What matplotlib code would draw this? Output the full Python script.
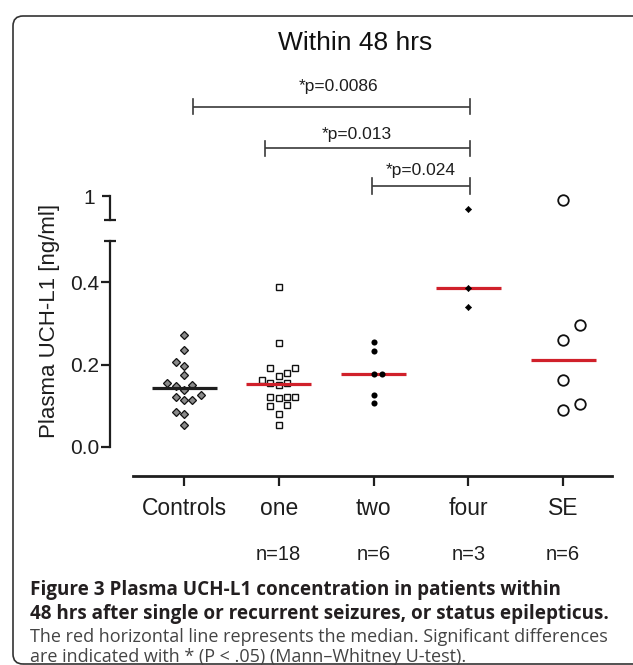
import matplotlib
matplotlib.use("Agg")
import matplotlib.pyplot as plt
import numpy as np
from matplotlib.patches import FancyBboxPatch
from matplotlib.transforms import blended_transform_factory

# values (ng/ml)
CATEGORIES = ["Controls", "one", "two", "four", "SE"]

controls = [0.271, 0.235, 0.206, 0.196, 0.174, 0.154, 0.149, 0.151,
            0.139, 0.121, 0.115, 0.115, 0.126, 0.084, 0.079, 0.054]
one_seizure = [0.389, 0.253, 0.192, 0.192, 0.173, 0.180, 0.162, 0.154, 0.150,
               0.154, 0.121, 0.119, 0.121, 0.121, 0.100, 0.102, 0.080, 0.054]
two_seizures = [0.254, 0.232, 0.176, 0.178, 0.127, 0.107]
four_seizures = [0.946, 0.386, 0.340]
status_epilepticus = [0.983, 0.296, 0.259, 0.162, 0.090, 0.104]

# column slot of each dot in the scatter (beeswarm layout)
controls_slot = [0, 0, -1, 0, 0, -2, -1, 1, 0, -1, 0, 1, 2, -1, 0, 0]
one_slot = [0, 0, -1, 2, 0, 1, -2, -1, 0, 1, -1, 0, 1, 2, -1, 1, 0, 0]
two_slot = [0, 0, 0, 1, 0, 0]
four_slot = [0, 0, 0]
se_slot = [0, 2, 0, 0, 0, 2]

COMPARISONS = ["*p=0.0086", "*p=0.013", "*p=0.024"]

CAPTION_BOLD = ["Figure 3 Plasma UCH-L1 concentration in patients within",
                "48 hrs after single or recurrent seizures, or status epilepticus."]
CAPTION_TEXT = ["The red horizontal line represents the median. Significant differences",
                "are indicated with * (P < .05) (Mann\u2013Whitney U-test)."]

# layout (pixels of the 633x665 picture, y measured from the top)
W, H, DPI = 633, 665, 100
SLOT = 0.088
BREAK_AT = 0.5
RED = "#d0202a"
INK = "#1e1e1e"


def fx(px):
    return px / W


def fy(py):
    return 1 - py / H


plt.rcParams["font.family"] = ["Liberation Sans", "DejaVu Sans"]

fig = plt.figure(figsize=(W / DPI, H / DPI), dpi=DPI)

# rounded frame, its right edge sits right at the picture border
box = FancyBboxPatch((0.13, 0.01), 6.34, 6.48,
                     boxstyle="round,pad=0,rounding_size=0.1",
                     transform=fig.dpi_scale_trans, facecolor="none",
                     edgecolor="#333333", linewidth=1.2)
fig.add_artist(box)

ax = fig.add_axes([fx(110), fy(476), fx(612) - fx(110), (476 - 241) / H])
top = fig.add_axes([fx(110), fy(220), fx(612) - fx(110), (220 - 196) / H])
for a in (ax, top):
    a.set_xlim(-0.781, 4.517)
    a.patch.set_visible(False)
    for side in ("top", "right"):
        a.spines[side].set_visible(False)
    a.spines["left"].set_linewidth(1.6)
    a.spines["left"].set_color(INK)

ax.set_ylim(-0.0707, BREAK_AT)
ax.spines["left"].set_bounds(0, BREAK_AT)
ax.spines["bottom"].set_bounds(-0.538, 4.517)
ax.spines["bottom"].set_linewidth(2.0)
ax.spines["bottom"].set_color(INK)
ax.set_yticks([0, 0.2, 0.4], ["0.0", "0.2", "0.4"])
ax.set_yticks([BREAK_AT], minor=True)
ax.tick_params(axis="y", which="major", direction="out", length=6.5, width=1.6,
               pad=1.5, labelsize=15, color=INK, labelcolor=INK)
ax.tick_params(axis="y", which="minor", direction="inout", length=9, width=1.6,
               color=INK)
ax.set_xticks(range(len(CATEGORIES)), CATEGORIES)
ax.tick_params(axis="x", direction="out", length=7, width=1.6, pad=8,
               labelsize=16.5, color=INK, labelcolor=INK)

top.set_ylim(0.9, 1.0)
top.spines["bottom"].set_visible(False)
top.set_xticks([])
top.set_yticks([1.0], ["1"])
top.set_yticks([0.9], minor=True)
top.tick_params(axis="y", which="major", direction="out", length=6, width=1.6,
                pad=5, labelsize=15, color=INK, labelcolor=INK)
top.tick_params(axis="y", which="minor", direction="inout", length=9, width=1.6,
                color=INK)

groups = [
    (controls, controls_slot, dict(marker="D", ms=4.0, mfc="#8a8a8a", mec="#111111", mew=0.9), 2, INK),
    (one_seizure, one_slot, dict(marker="s", ms=4.6, mfc="white", mec="#111111", mew=1.0), 2, RED),
    (two_seizures, two_slot, dict(marker="o", ms=4.4, mfc="black", mec="black", mew=0), 4, RED),
    (four_seizures, four_slot, dict(marker="D", ms=3.2, mfc="black", mec="black", mew=0.4), 4, RED),
    (status_epilepticus, se_slot, dict(marker="o", ms=7.6, mfc="white", mec="#111111", mew=1.3), 2, RED),
]

for i, (values, slots, style, z, median_color) in enumerate(groups):
    values = np.asarray(values)
    xs = i + SLOT * np.asarray(slots)
    low = values <= BREAK_AT
    ax.plot(xs[low], values[low], ls="none", zorder=z, clip_on=False, **style)
    if (~low).any():
        top.plot(xs[~low], values[~low], ls="none", zorder=z, clip_on=False, **style)
    med = np.median(values)
    ax.plot([i - 0.343, i + 0.343], [med, med], color=median_color, lw=2.3,
            solid_capstyle="butt", zorder=3)

# group sizes under the patient columns
fig_y = blended_transform_factory(ax.transData, fig.transFigure)
for i, (values, *_rest) in enumerate(groups[1:], start=1):
    ax.text(i, fy(555), f"n={len(values)}", transform=fig_y, ha="center",
            va="center", fontsize=14.5, color=INK)

# significance brackets: (x start, x end, line y px, text x, text y px)
bracket_layout = [(0.095, 3.02, 106.7, 1.636, 87),
                  (0.855, 3.02, 148.3, 1.826, 134),
                  (1.980, 3.02, 186.0, 2.501, 171)]
for label, (x0, x1, ly, tx, ty) in zip(COMPARISONS, bracket_layout):
    ax.plot([x0, x1], [fy(ly), fy(ly)], transform=fig_y, color="#3a3a3a",
            lw=1.2, clip_on=False, solid_capstyle="butt")
    for xe in (x0, x1):
        ax.plot([xe, xe], [fy(ly - 7.5), fy(ly + 7.5)], transform=fig_y,
                color="#3a3a3a", lw=1.2, clip_on=False)
    ax.text(tx, fy(ty), label, transform=fig_y, ha="center", va="center",
            fontsize=12.5, color=INK)

fig.text(fx(355), fy(43), "Within 48 hrs", ha="center", va="center",
         fontsize=19, color="#111111")
fig.text(fx(50), fy(321), "Plasma UCH-L1 [ng/ml]", rotation=90, ha="center",
         va="center", fontsize=16, color=INK)

for line, py in zip(CAPTION_BOLD, (590, 614)):
    fig.text(fx(30), fy(py), line, ha="left", va="center", fontsize=13.6,
             fontweight="bold", family=["Open Sans", "DejaVu Sans"], color="#231f20")
for line, py in zip(CAPTION_TEXT, (637, 657)):
    fig.text(fx(30), fy(py), line, ha="left", va="center", fontsize=13,
             family=["Open Sans", "DejaVu Sans"], color="#444444")

fig.savefig("out.png", dpi=DPI)
